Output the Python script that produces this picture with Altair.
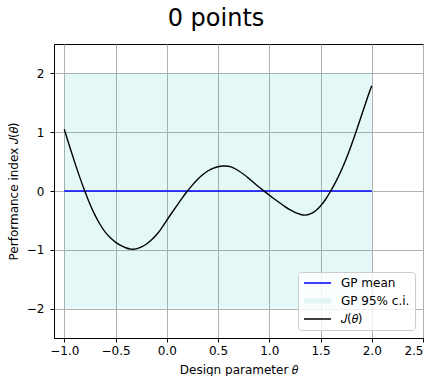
import altair as alt
import pandas as pd

# ---- data ----
theta = [-1.00, -0.95, -0.90, -0.85, -0.80, -0.75, -0.70, -0.65, -0.60, -0.55,
         -0.50, -0.45, -0.40, -0.35, -0.30, -0.25, -0.20, -0.15, -0.10, -0.05,
         0.00, 0.05, 0.10, 0.15, 0.20, 0.25, 0.30, 0.35, 0.40, 0.45,
         0.50, 0.55, 0.60, 0.65, 0.70, 0.75, 0.80, 0.85, 0.90, 0.95,
         1.00, 1.05, 1.10, 1.15, 1.20, 1.25, 1.30, 1.35, 1.40, 1.45,
         1.50, 1.55, 1.60, 1.65, 1.70, 1.75, 1.80, 1.85, 1.90, 1.95, 2.00]
J_vals = [1.05, 0.77, 0.50, 0.24, 0.00, -0.22, -0.41, -0.57, -0.70, -0.795,
          -0.87, -0.925, -0.965, -0.988, -0.985, -0.955, -0.905, -0.835, -0.745, -0.63,
          -0.50, -0.37, -0.245, -0.12, -0.005, 0.10, 0.195, 0.275, 0.34, 0.385,
          0.413, 0.426, 0.42, 0.395, 0.345, 0.285, 0.215, 0.14, 0.068, -0.002,
          -0.07, -0.135, -0.20, -0.262, -0.318, -0.362, -0.395, -0.41, -0.39, -0.34,
          -0.255, -0.14, 0.00, 0.16, 0.34, 0.545, 0.775, 1.025, 1.285, 1.545, 1.79]

mean_theta = [-1.0, 2.0]
mean_vals = [0.0, 0.0]

ci_theta = [-1.0, 2.0]
ci_lower = [-2.0, -2.0]
ci_upper = [2.0, 2.0]

series_names = ["GP mean", "GP 95% c.i.", "𝐽(𝜃)"]
series_colors = ["#0000ff", "#e3f6f6", "#000000"]

x_ticks = [-1.0, -0.5, 0.0, 0.5, 1.0, 1.5, 2.0, 2.5]
y_ticks = [-2, -1, 0, 1, 2]

# ---- tables ----
j_df = pd.DataFrame({"theta": theta, "J": J_vals})
mean_df = pd.DataFrame({"theta": mean_theta, "mean": mean_vals})
ci_df = pd.DataFrame({"theta": ci_theta, "lower": ci_lower, "upper": ci_upper})
leg_df = pd.DataFrame({"series": series_names})

FONT = "DejaVu Sans"

xscale = alt.Scale(domain=[-1.1, 2.5], nice=False, zero=False)
yscale = alt.Scale(domain=[-2.5, 2.5], nice=False, zero=False)

xaxis = alt.Axis(values=x_ticks, format=".1f", title="Design parameter 𝜃")
yaxis = alt.Axis(values=y_ticks, format="d", title="Performance index 𝐽(𝜃)")

band = alt.Chart(ci_df).mark_area(color="#00bfbf", opacity=0.1).encode(
    x=alt.X("theta:Q", scale=xscale, axis=xaxis),
    y=alt.Y("lower:Q", scale=yscale, axis=yaxis),
    y2="upper:Q",
)

mean_line = alt.Chart(mean_df).mark_line(color="#0000ff", strokeWidth=1.5).encode(
    x="theta:Q", y="mean:Q"
)

j_line = alt.Chart(j_df).mark_line(color="black", strokeWidth=1.4, interpolate="natural").encode(
    x="theta:Q", y="J:Q"
)

line_path = "M-1,-0.15L4.4,-0.15L4.4,0.15L-1,0.15Z"
patch_path = "M-1,-0.56L4.4,-0.56L4.4,0.56L-1,0.56Z"

leg = alt.Legend(
    title=None, orient="none", legendX=244, legendY=228,
    symbolSize=100, symbolStrokeWidth=0, symbolOpacity=1,
    labelFont=FONT, labelFontSize=12, labelColor="black", labelOffset=26,
    labelLimit=300, rowPadding=6, padding=5,
    fillColor="rgba(255,255,255,0.8)", strokeColor="#cccccc", cornerRadius=3,
)

legend_layer = alt.Chart(leg_df).mark_point(filled=True).encode(
    color=alt.Color("series:N", scale=alt.Scale(domain=series_names, range=series_colors), legend=leg),
    shape=alt.Shape("series:N", scale=alt.Scale(domain=series_names, range=[line_path, patch_path, line_path]), legend=leg),
).transform_filter("false")

chart = alt.layer(band, mean_line, j_line, legend_layer).properties(
    width=369, height=294,
    padding={"left": 54, "top": 44, "right": 9, "bottom": 38},
    autosize="none",
    title=alt.TitleParams("0 points", font=FONT, fontSize=24, fontWeight="normal",
                          color="black", anchor="middle", dx=-22.5, dy=22, offset=11,
                          baseline="bottom"),
).configure_view(
    stroke="black", strokeWidth=1
).configure_axis(
    domainColor="black", tickColor="black", gridColor="#b0b0b0", gridWidth=1,
    labelFont=FONT, labelFontSize=12, labelColor="black",
    titleFont=FONT, titleFontSize=12, titleFontWeight="normal", titleColor="black",
    tickSize=4,
).configure_axisX(
    labelPadding=3, titlePadding=8
).configure_axisY(
    labelPadding=6, titlePadding=6
)

chart.save("out.html", embed_options={"renderer": "svg", "actions": False})
